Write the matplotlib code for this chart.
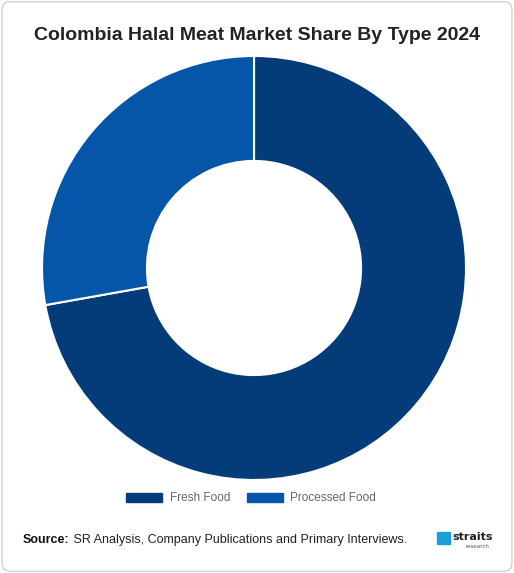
import matplotlib
matplotlib.use("Agg")
import matplotlib.pyplot as plt
from matplotlib.patches import FancyBboxPatch, Rectangle

labels = ["Fresh Food", "Processed Food"]
shares = [72.2, 27.8]
colors = ["#033c78", "#0556a8"]

fig = plt.figure(figsize=(5.14, 5.73), dpi=100)
fig.patch.set_facecolor("white")
border = FancyBboxPatch((0.004, 0.003), 0.992, 0.994, boxstyle="round,pad=0,rounding_size=0.015",
                        transform=fig.transFigure, fill=False, edgecolor="#d0d0d0", linewidth=1)
fig.patches.append(border)

ax = fig.add_axes([0.0817, 0.1623, 0.825, 0.74])
ax.pie(shares, colors=colors, startangle=90, counterclock=False, radius=1,
       wedgeprops=dict(width=0.495, edgecolor="white", linewidth=1.5))
ax.set_xlim(-1.0, 1.0)
ax.set_ylim(-1.0, 1.0)
ax.set_aspect("equal")

fig.text(0.5, 0.938, "Colombia Halal Meat Market Share By Type 2024", ha="center", va="center",
         fontsize=14, fontweight="semibold", color="#222222", family="Liberation Sans")

# legend
lx = [0.245, 0.48]
for x, lab, c in zip(lx, labels, colors):
    fig.patches.append(Rectangle((x, 0.124), 0.07, 0.016, transform=fig.transFigure, color=c))
    fig.text(x + 0.085, 0.131, lab, ha="left", va="center", fontsize=8.5, color="#666666",
             family="Liberation Sans")

src = fig.text(0.045, 0.058, "Source:", ha="left", va="center", fontsize=9, fontweight="bold",
               color="#111111", family="Liberation Sans")
fig.canvas.draw()
bb = src.get_window_extent().transformed(fig.transFigure.inverted())
fig.text(bb.x1, 0.058, " SR Analysis, Company Publications and Primary Interviews.", ha="left",
         va="center", fontsize=9, color="#222222", family="Liberation Sans")
fig.text(0.88, 0.062, "straits", ha="left", va="center", fontsize=8, fontweight="bold", color="#222222")
fig.text(0.905, 0.047, "research", ha="left", va="center", fontsize=4, color="#555555")
fig.patches.append(Rectangle((0.85, 0.05), 0.025, 0.022, transform=fig.transFigure, color="#1a9fd8"))

fig.savefig("out.png", dpi=100)
